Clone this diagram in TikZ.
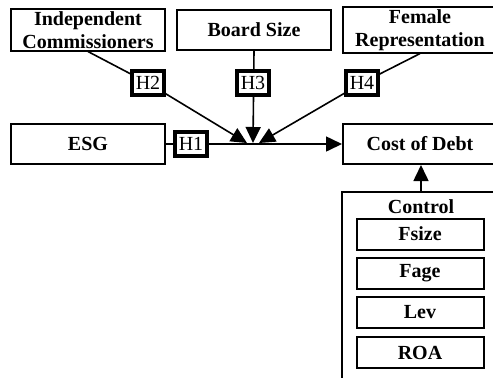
\documentclass[tikz,border=0pt]{standalone}
\usepackage{fontspec}
\setmainfont{Liberation Serif}
\usetikzlibrary{arrows.meta}

\tikzset{
  varbox/.style={draw, line width=1pt, fill=white, minimum width=77pt, minimum height=20pt,
    align=center, font=\fontsize{10}{11.5}\selectfont\bfseries, inner sep=1pt},
  hypbox/.style={draw, line width=2.25pt, fill=white, minimum width=16pt, minimum height=12pt,
    inner sep=0pt, font=\fontsize{10}{11}\selectfont},
  ctrlbox/.style={draw, line width=1pt, fill=white, minimum width=63.5pt, minimum height=15.5pt,
    font=\fontsize{10}{11}\selectfont\bfseries, inner sep=1pt},
  conn/.style={line width=0.8pt},
  tip/.style={-{Triangle[length=8pt,width=7.5pt]}}
}

\begin{document}
\begin{tikzpicture}[x=0.5pt, y=-0.5pt]
    \clip (0,0) rectangle (493,377);
    \fill[white] (0,0) rectangle (493,377);

    % Variable boxes
    \node[varbox] (ic)  at (88,30)   {Independent\\Commissioners};
    \node[varbox] (bs)  at (254,30)  {Board Size};
    \node[varbox] (fr)  at (420,30)  {Female\\Representation};
    \node[varbox] (esg) at (88,144)  {ESG};
    \node[varbox] (cod) at (420,144) {Cost of Debt};

    % Control panel and its items
    \node[draw, line width=1pt, minimum width=79pt, minimum height=98pt, inner sep=0pt] (ctrl) at (421,290) {};
    \node[font=\fontsize{10}{11}\selectfont\bfseries] (ctrltitle) at (421,207) {Control};
    \foreach \name/\y/\txt in {fsize/234/Fsize, fage/273.5/Fage, lev/312.5/Lev, roa/352.5/ROA} {
        \node[ctrlbox] (\name) at (420,\y) {\txt};
    }

    % Meeting points of the moderating arrows
    \coordinate (j1) at (247,143);
    \coordinate (j2) at (253,143);
    \coordinate (j3) at (259,143);

    % Moderating paths
    \draw[conn, tip] (ic.south) -- (148,83) -- (j1);
    \draw[conn, tip] (bs.south) -- (j2);
    \draw[conn, tip] (fr.south) -- (362,83) -- (j3);

    % Main path
    \draw[conn] (esg.east) -- (191,144);
    \draw[conn, tip] (191,144) -- (cod.west);
    \draw[conn, tip] (ctrl.north) -- (ctrl.north |- cod.south);

    % Hypothesis labels
    \node[hypbox] (h2) at (148,83)  {H2};
    \node[hypbox] (h3) at (253,83)  {H3};
    \node[hypbox] (h4) at (362,83)  {H4};
    \node[hypbox] (h1) at (191,144) {H1};
\end{tikzpicture}
\end{document}
